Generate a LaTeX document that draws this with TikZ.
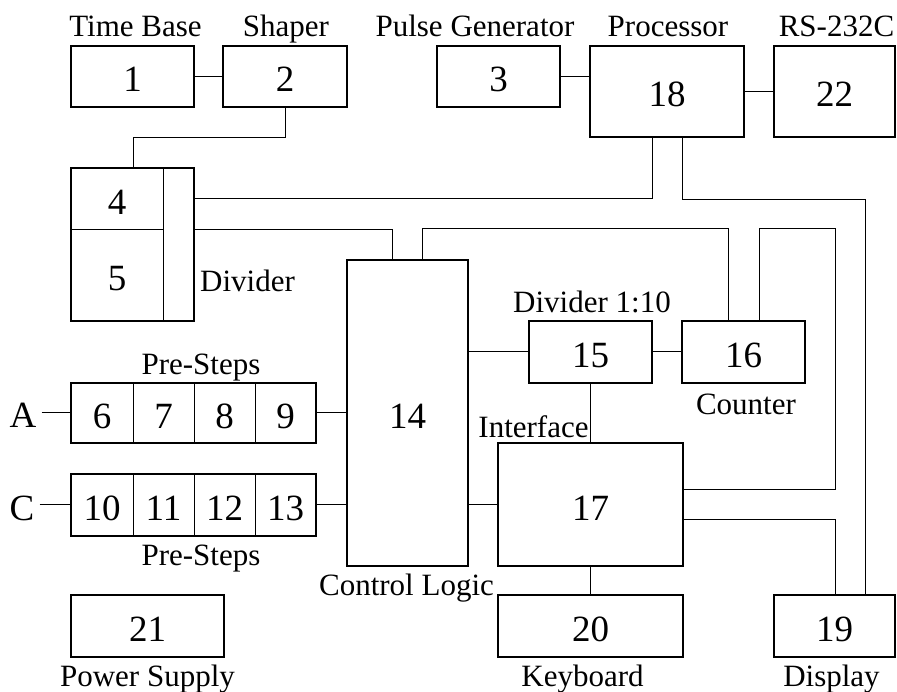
\documentclass[tikz,border=0pt]{standalone}
\usepackage{fontspec}
\setmainfont{Liberation Serif}
\usetikzlibrary{calc}
\newcommand\numfnt{\fontsize{37}{40}\selectfont}
\newcommand\lblfnt{\fontsize{31}{34}\selectfont}
\begin{document}
\begin{tikzpicture}[x=1pt,y=-1pt,
  box/.style={draw, line width=2pt, inner sep=0pt, font=\numfnt, text height=31pt, text depth=0pt},
  cell/.style={draw, line width=1pt, inner sep=0pt, outer sep=0pt, font=\numfnt, text height=31pt, text depth=0pt},
  lbl/.style={font=\lblfnt, anchor=base, inner sep=0pt},
  wire/.style={line width=1pt}]
\useasboundingbox (0,0) rectangle (897,692);
% top row
\node[box, minimum width=123, minimum height=61] (b1) at (132.5,76.5) {1};
\node[box, minimum width=124, minimum height=61] (b2) at (285,76.5) {2};
\node[box, minimum width=123, minimum height=61] (b3) at (498.5,76.5) {3};
\node[box, minimum width=154, minimum height=91] (b18) at (667,91.5) {18};
\node[box, minimum width=121, minimum height=91] (b22) at (834.5,91.5) {22};
% divider group
\node[cell, minimum width=92, minimum height=62] (n4) at (117,199) {4};
\node[cell, minimum width=92, minimum height=91] (n5) at (117,275.5) {5};
\node[cell, minimum width=31, minimum height=153] (ns) at (178.5,244.5) {};
\draw[line width=2pt] (n4.north west) rectangle (ns.south east);
% control logic etc
\node[box, minimum width=121, minimum height=306] (b14) at (407.5,413) {14};
\node[box, minimum width=123, minimum height=62] (b15) at (590.5,352) {15};
\node[box, minimum width=123, minimum height=62] (b16) at (743.5,352) {16};
\node[box, minimum width=185, minimum height=123] (b17) at (590.5,504.5) {17};
% pre-steps A
\node[cell, minimum width=62, minimum height=60] (c6) at (102,413) {6};
\node[cell, minimum width=61, minimum height=60] (c7) at (163.5,413) {7};
\node[cell, minimum width=61, minimum height=60] (c8) at (224.5,413) {8};
\node[cell, minimum width=61, minimum height=60] (c9) at (285.5,413) {9};
\draw[line width=2pt] (c6.north west) rectangle (c9.south east);
% pre-steps C
\node[cell, minimum width=62, minimum height=62] (c10) at (102,504.5) {10};
\node[cell, minimum width=61, minimum height=62] (c11) at (163.5,504.5) {11};
\node[cell, minimum width=61, minimum height=62] (c12) at (224.5,504.5) {12};
\node[cell, minimum width=61, minimum height=62] (c13) at (285.5,504.5) {13};
\draw[line width=2pt] (c10.north west) rectangle (c13.south east);
% bottom row
\node[box, minimum width=153, minimum height=62] (b21) at (147.5,626) {21};
\node[box, minimum width=185, minimum height=62] (b20) at (590.5,626) {20};
\node[box, minimum width=121, minimum height=62] (b19) at (834.5,626) {19};
% inputs
\node[font=\numfnt, anchor=base, inner sep=5pt] (A) at (23,428) {A};
\node[font=\numfnt, anchor=base, inner sep=5pt] (C) at (22,520) {C};
% labels
\node[lbl] (lTB) at (135.5,37) {Time Base};
\node[lbl] (lSh) at (286,37) {Shaper};
\node[lbl] (lPG) at (475,37) {Pulse Generator};
\node[lbl] (lPr) at (668,37) {Processor};
\node[lbl] (lRS) at (836.5,37) {RS-232C};
\node[lbl, anchor=base west] (lDi) at (200,292) {Divider};
\node[lbl] (lPS1) at (201,375) {Pre-Steps};
\node[lbl] (lPS2) at (201,565) {Pre-Steps};
\node[lbl] (lD10) at (592,313) {Divider 1:10};
\node[lbl] (lCo) at (746,414) {Counter};
\node[lbl] (lIf) at (533.5,437) {Interface};
\node[lbl] (lCL) at (406.5,595) {Control Logic};
\node[lbl] (lPSu) at (147.5,686) {Power Supply};
\node[lbl] (lKb) at (582.5,686) {Keyboard};
\node[lbl] (lDs) at (831.5,686) {Display};
% connectors
\draw[wire] (b1) -- (b2);
\draw[wire] (b2.south) -- ++(0,30) -| ($(n4.north west)+(62,0)$);
\draw[wire] (b3.east) -- (b3.east -| b18.west);
\draw[wire] (b18) -- (b22);
\draw[wire] ($(b18.south west)+(63,0)$) |- (ns.east |- n4.center);
\draw[wire] ($(b18.south west)+(93,0)$) -- ++(0,62) -| ($(b19.north west)+(92,0)$);
\draw[wire] (ns.east |- n5.north) -| ($(b14.north west)+(46,0)$);
\draw[wire] ($(b14.north west)+(76,0)$) -- ++(0,-30) -| ($(b16.north west)+(47,0)$);
\draw[wire] ($(b16.north west)+(78,0)$) -- ++(0,-91) -- ++(76,0) |- ($(b17.north east)+(0,47)$);
\draw[wire] ($(b17.north east)+(0,77)$) -| ($(b19.north west)+(62,0)$);
\draw[wire] (b15.west) -- (b15.west -| b14.east);
\draw[wire] (b15) -- (b16);
\draw[wire] (b15) -- (b17);
\draw[wire] (b17.west) -- (b17.west -| b14.east);
\draw[wire] (b17) -- (b20);
\draw[wire] (c9.east) -- (c9.east -| b14.west);
\draw[wire] (c13.east) -- (c13.east -| b14.west);
\draw[wire] (A.east |- c6.west) -- (c6.west);
\draw[wire] (C.east |- c10.west) -- (c10.west);
\end{tikzpicture}
\end{document}
